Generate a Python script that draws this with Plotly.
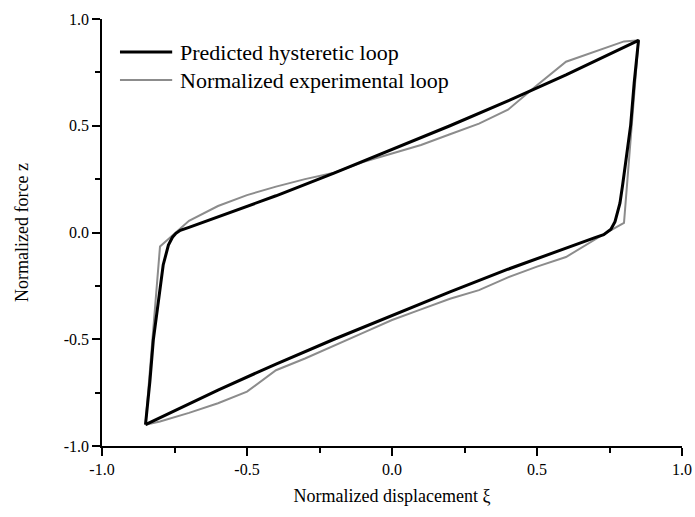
import plotly.graph_objects as go

# Predicted hysteretic loop (black): upper branch then lower branch
pred_up_x = [-0.85, -0.835, -0.823, -0.806, -0.789, -0.771, -0.757, -0.745, -0.73, -0.70, -0.6, -0.4, -0.2, 0.0, 0.2, 0.4, 0.6, 0.85]
pred_up_y = [-0.90, -0.70, -0.503, -0.316, -0.152, -0.059, -0.022, -0.004, 0.010, 0.024, 0.073, 0.172, 0.278, 0.388, 0.50, 0.616, 0.738, 0.90]
pred_dn_x = [0.85, 0.835, 0.823, 0.806, 0.795, 0.786, 0.769, 0.755, 0.740, 0.73, 0.70, 0.6, 0.4, 0.2, 0.0, -0.2, -0.4, -0.6, -0.85]
pred_dn_y = [0.90, 0.70, 0.503, 0.316, 0.22, 0.137, 0.051, 0.015, -0.001, -0.010, -0.024, -0.073, -0.172, -0.278, -0.388, -0.50, -0.616, -0.738, -0.90]

# Normalized experimental loop (gray)
exp_up_x = [-0.85, -0.80, -0.70, -0.60, -0.50, -0.40, -0.30, -0.20, -0.10, 0.0, 0.10, 0.20, 0.30, 0.40, 0.50, 0.60, 0.80, 0.85]
exp_up_y = [-0.90, -0.066, 0.055, 0.124, 0.175, 0.215, 0.25, 0.28, 0.33, 0.37, 0.41, 0.46, 0.51, 0.575, 0.69, 0.80, 0.895, 0.90]
exp_dn_x = [0.85, 0.80, 0.74, 0.60, 0.50, 0.40, 0.30, 0.20, 0.10, 0.0, -0.10, -0.20, -0.30, -0.40, -0.50, -0.60, -0.70, -0.80, -0.85]
exp_dn_y = [0.90, 0.045, 0.0, -0.115, -0.16, -0.21, -0.27, -0.31, -0.36, -0.41, -0.47, -0.53, -0.59, -0.645, -0.745, -0.80, -0.845, -0.885, -0.90]

tick_vals = [-1.0, -0.5, 0.0, 0.5, 1.0]
tick_text = ["-1.0", "-0.5", "0.0", "0.5", "1.0"]

series_names = ["Predicted hysteretic loop", "Normalized experimental loop"]
series_colors = ["#000000", "#8c8c8c"]
series_widths = [3, 2]

FONT = "Liberation Serif, Times New Roman, serif"

fig = go.Figure()
fig.add_trace(go.Scatter(x=exp_up_x + exp_dn_x[1:], y=exp_up_y + exp_dn_y[1:], mode="lines",
                         line=dict(color=series_colors[1], width=series_widths[1]),
                         name=series_names[1], showlegend=False))
fig.add_trace(go.Scatter(x=pred_up_x + pred_dn_x[1:], y=pred_up_y + pred_dn_y[1:], mode="lines",
                         line=dict(color=series_colors[0], width=series_widths[0]),
                         name=series_names[0], showlegend=False))

# Manual legend
leg_y = [0.9227, 0.857]
for name, col, w, yy in zip(series_names, series_colors, series_widths, leg_y):
    fig.add_shape(type="line", xref="paper", yref="paper", x0=0.031, x1=0.121, y0=yy, y1=yy,
                  line=dict(color=col, width=w))
    fig.add_annotation(xref="paper", yref="paper", x=0.131, y=yy, text=name, showarrow=False,
                       xanchor="left", yanchor="middle", font=dict(family=FONT, size=22, color="black"))

axis_common = dict(
    range=[-1, 1], showgrid=False, zeroline=False, showline=True, linecolor="black", linewidth=1.5,
    ticks="outside", ticklen=8, tickwidth=1.5, tickcolor="black",
    tickvals=tick_vals, ticktext=tick_text,
    tickfont=dict(family=FONT, size=16, color="black"),
    minor=dict(ticks="outside", ticklen=5, tickwidth=1.5, tickcolor="black", dtick=0.25, showgrid=False),
    mirror=False, automargin=False,
)

fig.update_layout(
    width=695, height=517,
    margin=dict(l=102, r=13, t=19, b=71),
    plot_bgcolor="white", paper_bgcolor="white",
    font=dict(family=FONT, color="black"),
    xaxis=dict(**axis_common, title=dict(text="Normalized displacement ξ", font=dict(family=FONT, size=18), standoff=12)),
    yaxis=dict(**axis_common, title=dict(text="Normalized force z", font=dict(family=FONT, size=18), standoff=30)),
)

fig.write_html("out.html", config={"displayModeBar": False},
               post_script="document.body.style.margin='0';document.body.style.overflow='hidden';")
